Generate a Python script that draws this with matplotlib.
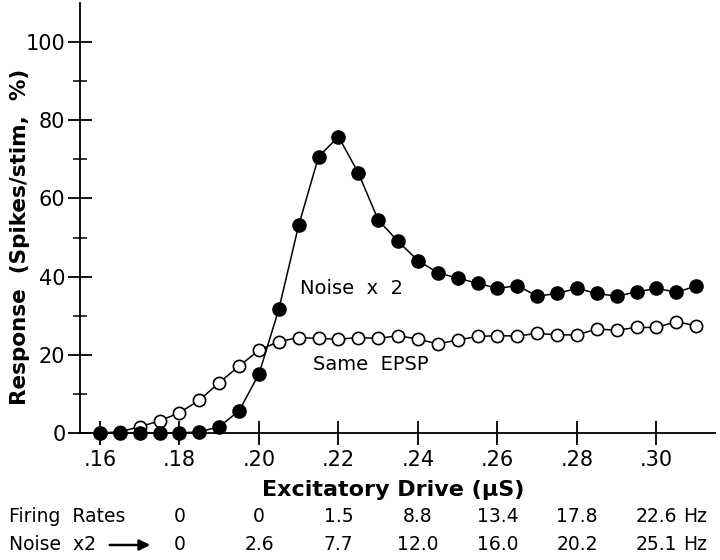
import numpy as np
import matplotlib
matplotlib.use('Agg')
import matplotlib.pyplot as plt
import matplotlib.transforms as mtransforms

## Dados
drive = np.arange(0.160, 0.3101, 0.005)  ## Excitatory drive (uS)
same_epsp = [0, 0, 0, 0, 0, 0.3, 1.6, 5.7, 15.1, 31.7,
             53.2, 70.7, 75.8, 66.5, 54.5, 49.0, 44.1, 41.0, 39.6, 38.3,
             37.0, 37.7, 35.0, 35.7, 37.0, 35.7, 35.0, 36.1, 37.0, 36.0, 37.6]
noise_x2 = [0, 0.3, 1.6, 3.1, 5.2, 8.4, 12.9, 17.1, 21.2, 23.4,
            24.4, 24.2, 24.0, 24.4, 24.2, 24.9, 24.0, 22.8, 23.8, 24.7,
            24.9, 24.8, 25.5, 25.1, 25.1, 26.6, 26.3, 27.0, 27.0, 28.5, 27.4]

rate_drive = [0.18, 0.20, 0.22, 0.24, 0.26, 0.28, 0.30]
firing_rates = ['0', '0', '1.5', '8.8', '13.4', '17.8', '22.6']
noise_rates = ['0', '2.6', '7.7', '12.0', '16.0', '20.2', '25.1']

xticks = [0.16, 0.18, 0.20, 0.22, 0.24, 0.26, 0.28, 0.30]
xticklabels = ['.16', '.18', '.20', '.22', '.24', '.26', '.28', '.30']

fig = plt.figure(figsize=(7.2, 5.6), dpi=100)
ax = fig.add_axes([80/720, 127/560, 635/720, 430/560])

## Curvas
ax.plot(drive, noise_x2, color='black', lw=1.1, marker='o', ms=8.8,
        mfc='white', mec='black', mew=1.2, clip_on=False, zorder=3)
ax.plot(drive, same_epsp, color='black', lw=1.1, marker='o', ms=9.5,
        mfc='black', mec='black', clip_on=False, zorder=4)

ax.text(0.2103, 37, 'Noise  x  2', fontsize=14, ha='left', va='center')
ax.text(0.2136, 17.4, 'Same  EPSP', fontsize=14, ha='left', va='center')

## Eixos
ax.set_xlim(0.15497, 0.31472)
ax.set_ylim(0, 110)
for s in ['top', 'right']:
    ax.spines[s].set_visible(False)
for s in ['left', 'bottom']:
    ax.spines[s].set_linewidth(1.3)

ax.set_xticks(xticks)
ax.set_xticklabels(xticklabels)
ax.set_yticks([0, 20, 40, 60, 80, 100])
ax.set_yticks([10, 30, 50, 70, 90], minor=True)
ax.tick_params(axis='both', which='major', direction='inout', length=17,
               width=1.3, labelsize=15)
ax.tick_params(axis='x', which='major', pad=4)
ax.tick_params(axis='y', which='major', pad=2)
ax.tick_params(axis='y', which='minor', direction='inout', length=10, width=1.1)

ax.set_xlabel('Excitatory Drive (µS)', fontsize=16, fontweight='bold')
ax.set_ylabel('Response  (Spikes/stim,  %)', fontsize=15.5, fontweight='bold')
ax.xaxis.set_label_coords(0.493, -0.11)
ax.yaxis.set_label_coords(-0.078, 0.456)

## Linhas de taxas de disparo
trans = mtransforms.blended_transform_factory(ax.transData, fig.transFigure)
y1 = 1 - 517/560
y2 = 1 - 545/560
fs = 13.5
fig.text(0.012, y1, 'Firing  Rates', fontsize=fs, va='center')
fig.text(0.012, y2, 'Noise  x2', fontsize=fs, va='center')
fig.patches.append(matplotlib.patches.FancyArrowPatch(
    (107/720, y2), (153/720, y2), transform=fig.transFigure,
    arrowstyle='-|>', mutation_scale=16, lw=1.8, color='black'))
for xd, a, b in zip(rate_drive, firing_rates, noise_rates):
    ax.text(xd, y1, a, transform=trans, fontsize=fs, ha='center', va='center')
    ax.text(xd, y2, b, transform=trans, fontsize=fs, ha='center', va='center')
ax.text(0.3068, y1, 'Hz', transform=trans, fontsize=fs, ha='left', va='center')
ax.text(0.3068, y2, 'Hz', transform=trans, fontsize=fs, ha='left', va='center')

fig.savefig('out.png', dpi=100)
